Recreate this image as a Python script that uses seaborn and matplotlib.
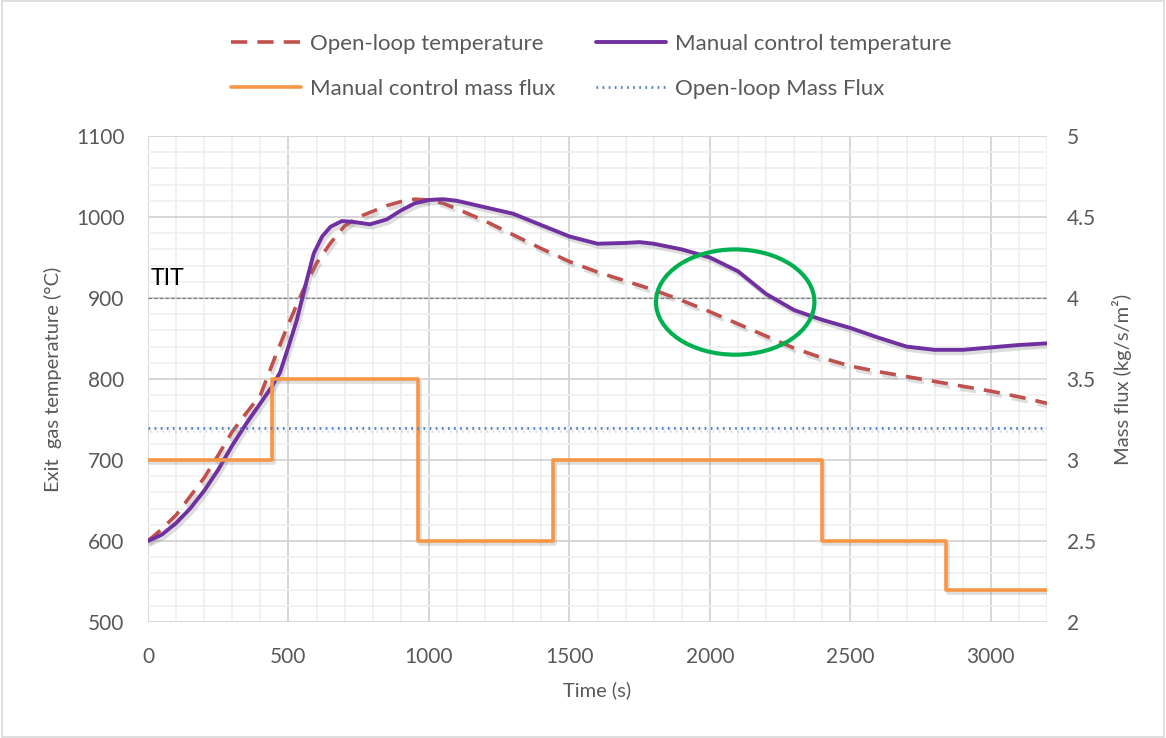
import matplotlib
matplotlib.use("Agg")
import matplotlib.pyplot as plt
import matplotlib.patheffects as pe
from matplotlib.patches import Ellipse, Rectangle
from matplotlib.ticker import MultipleLocator, FuncFormatter
import seaborn as sns
import pandas as pd

# Open-loop exit gas temperature (°C)
open_t = [0, 50, 100, 150, 200, 250, 300, 350, 400, 450, 500, 550, 600, 650, 700,
          750, 800, 850, 900, 950, 1000, 1050, 1100, 1200, 1300, 1400, 1500, 1600,
          1700, 1800, 1900, 2000, 2100, 2200, 2300, 2400, 2500, 2600, 2700, 2800,
          2900, 3000, 3100, 3200]
open_temp = [600, 615, 632, 655, 678, 706, 735, 758, 780, 825, 868, 908, 943, 968, 989,
             1000, 1007, 1014, 1019, 1022, 1021, 1017, 1010, 995, 978, 961, 945, 932,
             921, 910, 897, 883, 868, 853, 838, 826, 816, 809, 803, 797,
             791, 785, 778, 770]

# Manual control exit gas temperature (°C)
manual_t = [0, 50, 100, 150, 200, 250, 300, 350, 400, 440, 470, 500, 530, 560, 590,
            620, 650, 690, 730, 790, 850, 900, 950, 1000, 1050, 1100, 1200, 1300,
            1400, 1500, 1600, 1700, 1750, 1800, 1900, 2000, 2100, 2200, 2300, 2400,
            2500, 2600, 2700, 2800, 2900, 3000, 3100, 3200]
manual_temp = [600, 608, 622, 640, 662, 688, 718, 745, 770, 790, 808, 840, 873, 915, 955,
               976, 988, 995, 994, 991, 997, 1008, 1017, 1021, 1022, 1020, 1012, 1004,
               990, 976, 967, 968, 969, 967, 960, 950, 933, 905, 885, 873,
               863, 851, 840, 836, 836, 839, 842, 844]

# Manual control mass flux steps (kg/s/m²)
flux_t = [0, 440, 960, 1440, 2400, 2840, 3200]
flux_manual = [3.0, 3.5, 2.5, 3.0, 2.5, 2.2, 2.2]

# Open-loop mass flux (kg/s/m²)
open_flux_t = [0, 3200]
open_flux = [3.2, 3.2]

tit_value = 900
x_ticks = [0, 500, 1000, 1500, 2000, 2500, 3000]
temp_ticks = [500, 600, 700, 800, 900, 1000, 1100]
flux_ticks = [2, 2.5, 3, 3.5, 4, 4.5, 5]

sns.set_theme(style="white")
plt.rcParams["font.family"] = ["Lato", "DejaVu Sans"]
TXT = "#595959"

fig = plt.figure(figsize=(11.66, 7.38), dpi=100)
ax = fig.add_axes([0.1269, 0.1572, 0.7711, 0.6585])
ax2 = ax.twinx()

shadow = [pe.SimpleLineShadow(offset=(1.5, -2.5), shadow_color="#7f7f7f", alpha=0.25), pe.Normal()]

df_open = pd.DataFrame({"t": open_t, "T": open_temp})
df_man = pd.DataFrame({"t": manual_t, "T": manual_temp})
df_flux = pd.DataFrame({"t": flux_t, "F": flux_manual})
df_oflux = pd.DataFrame({"t": open_flux_t, "F": open_flux})

# grid
ax.set_xlim(0, 3200)
ax.set_ylim(500, 1100)
ax.xaxis.set_major_locator(MultipleLocator(500))
ax.xaxis.set_minor_locator(MultipleLocator(100))
ax.yaxis.set_major_locator(MultipleLocator(100))
ax.yaxis.set_minor_locator(MultipleLocator(20))
ax.grid(which="minor", color="#EFEFEF", lw=1.2, zorder=0)
ax.grid(which="major", color="#D4D4D4", lw=1.3, zorder=0)
ax.set_axisbelow(True)

ax.axhline(tit_value, color="#808080", lw=0.9, ls=(0, (3, 1.5)), zorder=1)
ax.text(8, tit_value + 11, "TIT", fontsize=16.5, color="black", ha="left", va="bottom")

sns.lineplot(data=df_open, x="t", y="T", ax=ax, color="#C0504D", lw=2.6,
             linestyle=(0, (4.5, 2.8)), label="Open-loop temperature",
             path_effects=shadow, zorder=3, legend=False)
sns.lineplot(data=df_man, x="t", y="T", ax=ax, color="#7030A0", lw=2.8,
             label="Manual control temperature", path_effects=shadow, zorder=4, legend=False)

sns.lineplot(data=df_flux, x="t", y="F", ax=ax2, color="#F79646", lw=2.6,
             drawstyle="steps-post", label="Manual control mass flux",
             path_effects=shadow, zorder=3, legend=False)
sns.lineplot(data=df_oflux, x="t", y="F", ax=ax2, color="#4F81BD", lw=2.0,
             linestyle=(0, (0.6, 1.6)), label="Open-loop Mass Flux",
             path_effects=shadow, zorder=3, legend=False)

ax2.set_ylim(2, 5)
ax2.set_yticks(flux_ticks)
ax2.yaxis.set_major_formatter(FuncFormatter(lambda v, p: f"{v:g}"))
ax2.grid(False)

ax.set_xticks(x_ticks)
ax.set_yticks(temp_ticks)
for a in (ax, ax2):
    for s in a.spines.values():
        s.set_visible(False)
    a.tick_params(axis="y", which="both", length=0, labelsize=15, labelcolor=TXT, pad=17)
ax.tick_params(axis="x", which="both", length=0, labelsize=15, labelcolor=TXT, pad=18)
ax2.tick_params(axis="y", pad=14)

ax.set_xlabel("Time (s)", fontsize=14.5, color=TXT, labelpad=10)
ax.set_ylabel("Exit  gas temperature (°C)", fontsize=14.5, color=TXT, labelpad=10)
ax2.set_ylabel("Mass flux (kg/s/m²)", fontsize=14.5, color=TXT, labelpad=12)

# highlighted region
ax.add_patch(Ellipse((2090, 895), 564, 130, fill=False, edgecolor="#00B050", lw=3, zorder=6))

h1, l1 = ax.get_legend_handles_labels()
h2, l2 = ax2.get_legend_handles_labels()
hd = dict(zip(l1 + l2, h1 + h2))
order = ["Open-loop temperature", "Manual control mass flux",
         "Manual control temperature", "Open-loop Mass Flux"]
leg = fig.legend([hd[k] for k in order], order, ncol=2, loc="upper center",
                 bbox_to_anchor=(0.507, 0.981), frameon=False, fontsize=16,
                 handlelength=3.15, handletextpad=0.4, columnspacing=1.85,
                 labelspacing=1.12)
for t in leg.get_texts():
    t.set_color(TXT)
for h in leg.legend_handles:
    h.set_path_effects([])

fig.add_artist(Rectangle((0.002, 0.002), 0.996, 0.996, transform=fig.transFigure,
                         fill=False, edgecolor="#D9D9D9", lw=1.2))

fig.savefig("out.png", dpi=100)
